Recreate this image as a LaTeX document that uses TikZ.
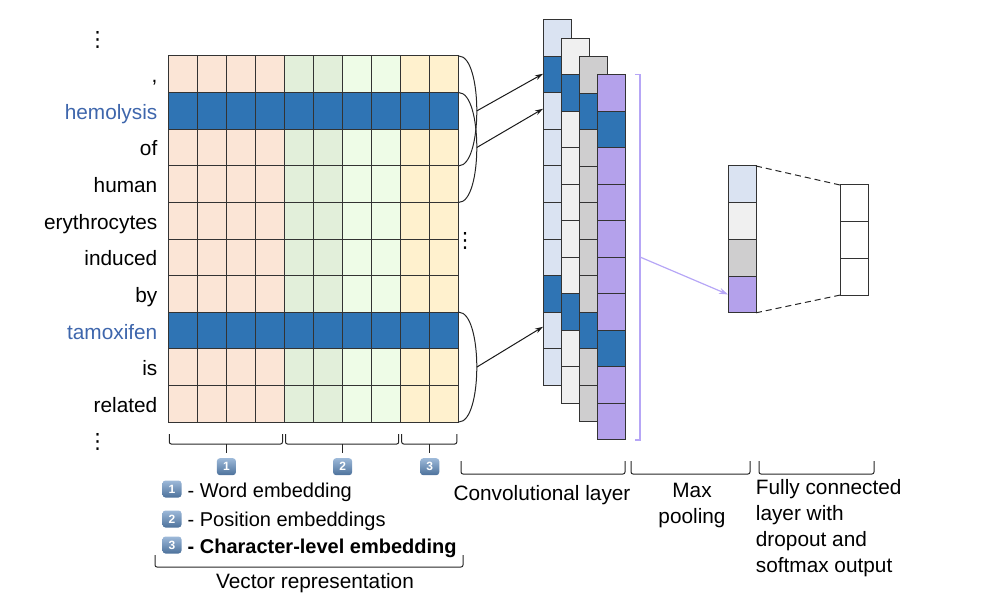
\documentclass[tikz,border=0pt]{standalone}
\usepackage{fontspec}
\setmainfont{Liberation Sans}
\newfontfamily\dotsfont{DejaVu Sans}
\usetikzlibrary{arrows.meta,positioning,calc}

\definecolor{embword}{HTML}{FBE5D6}
\definecolor{embposA}{HTML}{E2EFDA}
\definecolor{embposB}{HTML}{EEFCE7}
\definecolor{embchar}{HTML}{FFF1CE}
\definecolor{entblue}{HTML}{2F74B4}
\definecolor{entword}{HTML}{3E66AC}
\definecolor{convA}{HTML}{DAE3F2}
\definecolor{convB}{HTML}{F0F0F0}
\definecolor{convC}{HTML}{CFCECF}
\definecolor{convD}{HTML}{B4A1EB}
\definecolor{lavender}{HTML}{B6A6F6}
\definecolor{badgetop}{HTML}{9DB9D9}
\definecolor{badgebot}{HTML}{4C719B}

\tikzset{
  cell/.style={draw=black!80, line width=1pt, inner sep=0pt, outer sep=0pt,
    minimum width=29.05pt, minimum height=36.6pt},
  convcell/.style={cell, minimum width=28pt, minimum height=36.5pt},
  badge/.style={rounded corners=3pt, top color=badgetop, bottom color=badgebot,
    text=white, font=\fontsize{12}{12}\selectfont\bfseries,
    minimum width=19pt, minimum height=17pt, inner sep=0pt},
  brace/.style={draw=black!85, line width=1pt, rounded corners=2pt},
  windowarc/.style={draw=black!85, line width=1pt},
  arr/.style={draw=black!90, line width=1pt, -{Stealth[length=8pt,width=5pt]}},
  lavarr/.style={draw=lavender, line width=1.2pt, -{Stealth[length=9pt,width=6pt]}},
  legend/.style={anchor=base west, inner sep=0pt, font=\fontsize{20}{24}\selectfont},
  vdotsnode/.style={inner sep=0pt, font=\dotsfont\fontsize{21}{21}\selectfont}
}

\begin{document}
\begin{tikzpicture}[x=1pt, y=-1pt, font=\fontsize{20.8}{25.7}\selectfont]
    \useasboundingbox (0,0) rectangle (982,604);
    % Define row height and column width
    \def\rh{36.6}
    \def\cw{29.05}

    % Embedding matrix
    \foreach \r in {1,...,10}
    {
        \foreach \c/\col in {1/embword,2/embword,3/embword,4/embword,5/embposA,6/embposA,7/embposB,8/embposB,9/embchar,10/embchar}
        {
            \ifnum\r=2 \def\fc{entblue}\else\ifnum\r=8 \def\fc{entblue}\else\def\fc{\col}\fi\fi
            \node[cell, fill=\fc] (m-\r-\c) at ({168.3+(\c-0.5)*\cw},{56+(\r-0.5)*\rh}) {};
        }
    }

    % Words of the sentence
    \foreach \r/\w/\tc in {1/{,}/black, 2/hemolysis/entword, 3/of/black, 4/human/black, 5/erythrocytes/black, 6/induced/black, 7/by/black, 8/tamoxifen/entword, 9/is/black, 10/related/black}
        \node[anchor=base east, text=\tc, inner sep=0pt] (w-\r) at (157.5,{56+(\r-0.5)*\rh+8.5}) {\w};
    \node[vdotsnode] (dots-top) at (97.7,40) {⋮};
    \node[vdotsnode] (dots-bot) at (97.7,442) {⋮};
    \node[vdotsnode] (dots-mid) at (465,241) {⋮};

    % Windows of three words
    \foreach \a/\b/\n in {1/3/1, 2/4/2, 8/10/3}
    {
        \draw[windowarc] (m-\a-10.north east) .. controls +(24,0) and +(24,0) .. (m-\b-10.south east);
        \coordinate (win\n) at ($(m-\a-10.north east)!0.5!(m-\b-10.south east)+(18,0)$);
    }

    % Convolutional layer
    \foreach \k/\col in {1/convA,2/convB,3/convC,4/convD}
    {
        \foreach \i in {1,...,10}
        {
            \ifnum\i=2 \def\fc{entblue}\else\ifnum\i=8 \def\fc{entblue}\else\def\fc{\col}\fi\fi
            \node[convcell, fill=\fc] (c\k-\i) at ({557+18.3*(\k-1)},{20+18.3*(\k-1)+(\i-0.5)*36.5}) {};
        }
    }
    \draw[arr] (win1) -- ([yshift=1pt]c1-2.west);
    \draw[arr] (win2) -- ([yshift=2.5pt]c1-3.west);
    \draw[arr] (win3) -- ([yshift=3.5pt]c1-9.west);

    % Max pooling
    \draw[draw=lavender, line width=1.2pt] ([xshift=9pt]c4-1.north east) -- ++(5,0) |- ([xshift=9pt]c4-10.south east);
    \coordinate (br-mid) at ($(c4-1.north east)!0.5!(c4-10.south east)+(15,0)$);
    \foreach \i/\col in {1/convA,2/convB,3/convC,4/convD}
        \node[convcell, fill=\col, minimum height=36.7pt] (p-\i) at (742,{166+(\i-0.5)*36.7}) {};
    \draw[lavarr] (br-mid) -- (p-4.west);

    % Fully connected layer
    \foreach \i in {1,2,3}
        \node[convcell, fill=white, minimum height=36.7pt] (f-\i) at (854,{185+(\i-0.5)*36.7}) {};
    \draw[line width=1pt, black!85, dash pattern=on 6pt off 4pt] (p-1.north east) -- (f-1.north west);
    \draw[line width=1pt, black!85, dash pattern=on 6pt off 4pt] (p-4.south east) -- (f-3.south west);

    % Braces under the embeddings
    \foreach \a/\b/\n in {1/4/1, 5/8/2, 9/10/3}
    {
        \draw[brace] ([xshift=1pt,yshift=-12pt]m-10-\a.south west) -- ++(0,10) -| ([xshift=-2pt,yshift=-12pt]m-10-\b.south east);
        \coordinate (tick\n) at ($([yshift=-22pt]m-10-\a.south west)!0.5!([yshift=-22pt]m-10-\b.south east)$);
        \draw[brace] (tick\n) -- ++(0,9) coordinate (tickend\n);
        \node[badge, below=5pt of tickend\n] (b\n) {\n};
    }

    % Legend
    \node[badge] (l1) at (172,489) {1};
    \node[legend] (leg1) at (187.5,497) {- Word embedding};
    \node[badge] (l2) at (172,519) {2};
    \node[legend] (leg2) at (187.5,526) {- Position embeddings};
    \node[badge] (l3) at (172,545) {3};
    \node[legend] (leg3) at (187.5,553) {\bfseries - Character-level embedding};
    \draw[brace] (155,555) |- (463,567) -- (463,555);
    \node[anchor=base] (vec-lbl) at (315,588) {Vector representation};

    % Layer labels
    \foreach \x/\y in {461/625, 631/750, 759/874}
        \draw[brace] (\x,461) |- (\y,474) -- (\y,461);
    \node[anchor=base] (conv-lbl) at (542,500) {Convolutional layer};
    \node[anchor=base, align=center] (pool-lbl) at (692,523) {Max\\pooling};
    \node[anchor=base west, align=left, inner sep=0pt] (fc-lbl) at (755.7,572) {Fully connected\\layer with\\dropout and\\softmax output};
\end{tikzpicture}
\end{document}
